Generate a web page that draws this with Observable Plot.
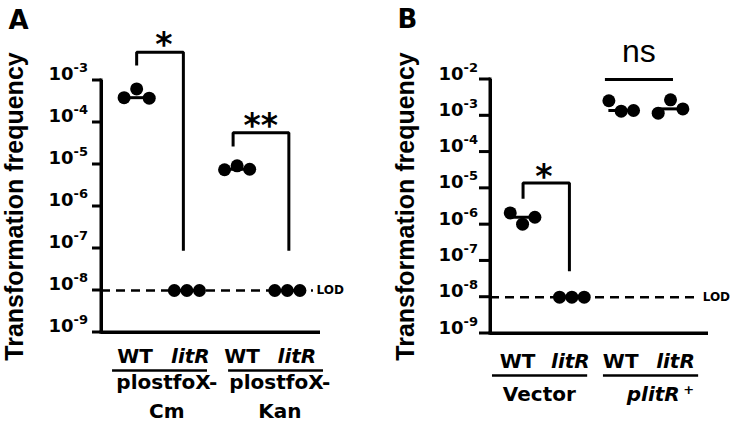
<!DOCTYPE html>
<html><head><meta charset="utf-8">
<script src="https://cdn.jsdelivr.net/npm/d3@7"></script>
<script src="https://cdn.jsdelivr.net/npm/@observablehq/plot@0.6"></script>
<style>
body{margin:0;background:#fff;}
#wrap{display:flex;width:733px;height:427px;background:#fff;}
#wrap svg{flex:none;}
</style></head><body><div id="wrap"></div>
<script>
// ---------- Panel A data ----------
const groupsA = ["WT plostfoX-Cm", "litR plostfoX-Cm", "WT plostfoX-Kan", "litR plostfoX-Kan"];
const valuesA = [
  [3.9e-4, 6.3e-4, 3.8e-4],
  [1e-8, 1e-8, 1e-8],
  [7.5e-6, 9.3e-6, 7.7e-6],
  [1e-8, 1e-8, 1e-8]
];
const yTicksA = [1e-9, 1e-8, 1e-7, 1e-6, 1e-5, 1e-4, 1e-3];
const yTickExpA = ["-9", "-8", "-7", "-6", "-5", "-4", "-3"];
const xLabelsA = ["WT", "litR", "WT", "litR"];
const xLabelPosA = [-0.03, 1.07, 2.1, 3.19];
const groupLabelsA = ["plostfoX-\nCm", "plostfoX-\nKan"];
const groupLabelItalicA = [false, false];
const groupLabelPosA = [0.6, 2.85];
const underlinesA = [[-0.48, 1.41], [1.83, 3.72]];
const bracketsA = [
  {x1: 0, x2: 0.93, yStart: 2.28e-3, yTop: 4.7e-3, yEnd: 8.9e-8},
  {x1: 1.92, x2: 3.03, yStart: 2.7e-5, yTop: 5.7e-5, yEnd: 8.9e-8}
];
const starsA = [{x: 0.54, y: 6.8e-3, t: "*"}, {x: 2.47, y: 8.2e-5, t: "**"}];

// ---------- Panel B data ----------
const groupsB = ["WT Vector", "litR Vector", "WT plitR+", "litR plitR+"];
const valuesB = [
  [2.1e-6, 1.03e-6, 1.6e-6],
  [1e-8, 1e-8, 1e-8],
  [2.6e-3, 1.34e-3, 1.4e-3],
  [1.18e-3, 2.76e-3, 1.55e-3]
];
const yTicksB = [1e-9, 1e-8, 1e-7, 1e-6, 1e-5, 1e-4, 1e-3, 1e-2];
const yTickExpB = ["-9", "-8", "-7", "-6", "-5", "-4", "-3", "-2"];
const xLabelsB = ["WT", "litR", "WT", "litR"];
const xLabelPosB = [-0.1, 0.97, 1.99, 3.1];
const groupLabelsB = ["Vector", "plitR"];
const groupLabelItalicB = [false, true];
const groupLabelPosB = [0.34, 2.65];
const groupSupB = [{x: 3.37, t: "+"}];
const underlinesB = [[-0.61, 1.32], [1.64, 3.57]];
const bracketsB = [
  {x1: 0.01, x2: 0.95, yStart: 5.2e-6, yTop: 1.4e-5, yEnd: 5.2e-8}
];
const starsB = [{x: 0.43, y: 1.95e-5, t: "*"}];
const nsLinesB = [{x1: 1.68, x2: 3.06, y: 1e-2}];
const nsTextB = [{x: 2.36, y: 0.030, t: "ns"}];

const LOD = 1e-8;
const BOLD = "DejaVu Sans";
const ARIAL = "Liberation Sans";

function panel(c) {
  const pts = c.values.flatMap((vals, gi) => vals.map((v, ri) => ({g: c.groups[gi], x: gi + (ri - 1) * 0.25, y: v})));
  const med = c.values.map((vals, gi) => ({x1: gi - 0.25, x2: gi + 0.25, y: d3.median(vals)}));
  const bpts = c.brackets.flatMap((b, i) => [
    {i, x: b.x1, y: b.yStart}, {i, x: b.x1, y: b.yTop},
    {i, x: b.x2, y: b.yTop}, {i, x: b.x2, y: b.yEnd}
  ]);
  const xl = c.xLabels.map((t, i) => ({t, x: c.xLabelPos[i]}));
  const gl = c.groupLabels.map((t, i) => ({t, x: c.groupLabelPos[i], it: c.groupItalic[i]}));
  const ul = c.underlines.map(([x1, x2]) => ({x1, x2, y: c.yDomain[0]}));
  const x0 = c.xDomain[0];
  const y0 = c.yDomain[0];
  const pxPerUnit = (c.width - c.ml - c.mr) / (c.xDomain[1] - c.xDomain[0]);
  const xTickStart = x0 - c.tickLen / pxPerUnit;
  const lodLine = [{y: LOD, x1: x0, x2: c.lodEnd}];
  // axis geometry (as filled rects, drawn through the scales)
  const yAxisRect = [{x1: x0, x2: x0, y1: y0, y2: c.yDomain[1]}];
  const xAxisRect = [{x1: x0, x2: c.xDomain[1], y1: y0, y2: y0}];
  const tickRects = c.yTicks.map(v => ({x1: xTickStart, x2: x0, y1: v, y2: v}));
  const glText = (rows, italic) => Plot.text(rows.filter(d => d.it === italic), {x: "x", text: "t", frameAnchor: "bottom", lineAnchor: "bottom", dy: c.glDy, lineHeight: 1.435, fontSize: 20, fontWeight: "bold", fontStyle: italic ? "italic" : "normal", fontFamily: BOLD});
  const thick = {insetTop: -1.5, insetBottom: -1.5, fill: "black", stroke: "none"};
  return Plot.plot({
    width: c.width, height: 427,
    marginLeft: c.ml, marginRight: c.mr, marginTop: c.mt, marginBottom: c.mb,
    x: {type: "linear", domain: c.xDomain, axis: null},
    y: {type: "log", domain: c.yDomain, axis: "left", ticks: c.yTicks, tickSize: c.tickLen, tickFormat: () => "", line: true, label: null},
    marks: [
      // axes (filled rects, plus rule-based fallback)
      Plot.rect(yAxisRect, {x1: "x1", x2: "x2", y1: "y1", y2: "y2", insetLeft: -1.5, insetRight: -1.5, insetTop: -1.5, insetBottom: -1.5, fill: "black", stroke: "none"}),
      Plot.rect(xAxisRect, {x1: "x1", x2: "x2", y1: "y1", y2: "y2", insetLeft: -1.5, ...thick}),
      Plot.rect(tickRects, {x1: "x1", x2: "x2", y1: "y1", y2: "y2", ...thick}),
      Plot.ruleX(yAxisRect, {x: "x1", y1: "y1", y2: "y2", stroke: "black", strokeWidth: 3}),
      Plot.ruleY(xAxisRect, {y: "y1", x1: "x1", x2: "x2", stroke: "black", strokeWidth: 3}),
      Plot.ruleY(lodLine, {y: "y", x1: "x1", x2: "x2", stroke: "black", strokeWidth: 2.5, strokeDasharray: "9,6"}),
      Plot.text(["LOD"], {text: d => d, x: c.lodEnd, y: LOD, dx: c.lodDx, textAnchor: "start", lineAnchor: "middle", fontSize: 12, fontWeight: "bold", fontFamily: BOLD}),
      Plot.text(c.yTicks, {y: d => d, text: () => "10", frameAnchor: "left", textAnchor: "end", lineAnchor: "bottom", dx: c.tickDx, dy: c.tickDy, fontSize: 18, fontWeight: "bold", fontFamily: BOLD}),
      Plot.text(c.yTicks, {y: d => d, text: (d, i) => c.yExps[i], frameAnchor: "left", textAnchor: "start", lineAnchor: "bottom", dx: c.tickDx, dy: c.tickDy - 8, fontSize: 13, fontWeight: "bold", fontFamily: BOLD}),
      Plot.text([c.title], {text: d => d, frameAnchor: "left", rotate: -90, dx: c.titleDx, textAnchor: "middle", lineAnchor: "bottom", fontSize: 25, fontWeight: "bold", fontFamily: ARIAL}),
      Plot.text([c.letter], {text: d => d, frameAnchor: "top-left", dx: c.letterDx, dy: c.letterDy, textAnchor: "start", lineAnchor: "bottom", fontSize: 26, fontWeight: "bold", fontFamily: BOLD}),
      Plot.ruleY(med, {x1: "x1", x2: "x2", y: "y", stroke: "black", strokeWidth: 3}),
      Plot.dot(pts, {x: "x", y: "y", r: 6.5, fill: "black", stroke: "none"}),
      Plot.line(bpts, {x: "x", y: "y", z: "i", stroke: "black", strokeWidth: 3, strokeLinejoin: "miter", strokeLinecap: "butt"}),
      Plot.text(c.stars, {x: "x", y: "y", text: "t", lineAnchor: "middle", fontSize: 33, fontWeight: "bold", fontFamily: BOLD}),
      Plot.ruleY(c.nsLines || [], {x1: "x1", x2: "x2", y: "y", stroke: "black", strokeWidth: 3}),
      Plot.text(c.nsText || [], {x: "x", y: "y", text: "t", lineAnchor: "bottom", fontSize: 32, fontFamily: ARIAL}),
      Plot.text(xl.filter(d => d.t === "WT"), {x: "x", text: "t", frameAnchor: "bottom", lineAnchor: "bottom", dy: c.xlDy, fontSize: 20, fontWeight: "bold", fontFamily: BOLD}),
      Plot.text(xl.filter(d => d.t !== "WT"), {x: "x", text: "t", frameAnchor: "bottom", lineAnchor: "bottom", dy: c.xlDy, fontSize: 20, fontWeight: "bold", fontStyle: "italic", fontFamily: BOLD}),
      Plot.ruleY(ul, {x1: "x1", x2: "x2", y: "y", dy: c.ulDy, stroke: "black", strokeWidth: 2.5}),
      glText(gl, false),
      glText(gl, true),
      Plot.text(c.glSup || [], {x: "x", text: "t", frameAnchor: "bottom", lineAnchor: "bottom", dy: c.glDy - 7, fontSize: 13, fontWeight: "bold", fontFamily: BOLD})
    ]
  });
}

const wrap = document.getElementById("wrap");
wrap.append(panel({
  width: 370, ml: 101, mr: 50, mt: 80, mb: 95,
  xDomain: [-0.7, 3.66], yDomain: [1e-9, 1e-3],
  groups: groupsA, values: valuesA, yTicks: yTicksA, yExps: yTickExpA, tickLen: 9,
  tickDx: -28, tickDy: -1,
  xLabels: xLabelsA, xLabelPos: xLabelPosA, groupLabels: groupLabelsA, groupLabelPos: groupLabelPosA, groupItalic: groupLabelItalicA,
  underlines: underlinesA, brackets: bracketsA, stars: starsA,
  lodEnd: 3.52, lodDx: 3,
  title: "Transformation frequency", titleDx: -79, letter: "A", letterDx: -93, letterDy: -52,
  xlDy: 30, ulDy: 38, glDy: 85
}));
wrap.append(panel({
  width: 363, ml: 120, mr: 25, mt: 79, mb: 94,
  xDomain: [-0.65, 3.77], yDomain: [1e-9, 1e-2],
  groups: groupsB, values: valuesB, yTicks: yTicksB, yExps: yTickExpB, tickLen: 11,
  tickDx: -27, tickDy: 0,
  xLabels: xLabelsB, xLabelPos: xLabelPosB, groupLabels: groupLabelsB, groupLabelPos: groupLabelPosB, groupItalic: groupLabelItalicB,
  glSup: groupSupB,
  underlines: underlinesB, brackets: bracketsB, stars: starsB, nsLines: nsLinesB, nsText: nsTextB,
  lodEnd: 3.51, lodDx: 7,
  title: "Transformation frequency", titleDx: -77, letter: "B", letterDx: -93, letterDy: -52,
  xlDy: 34, ulDy: 42, glDy: 67
}));
</script></body></html>
